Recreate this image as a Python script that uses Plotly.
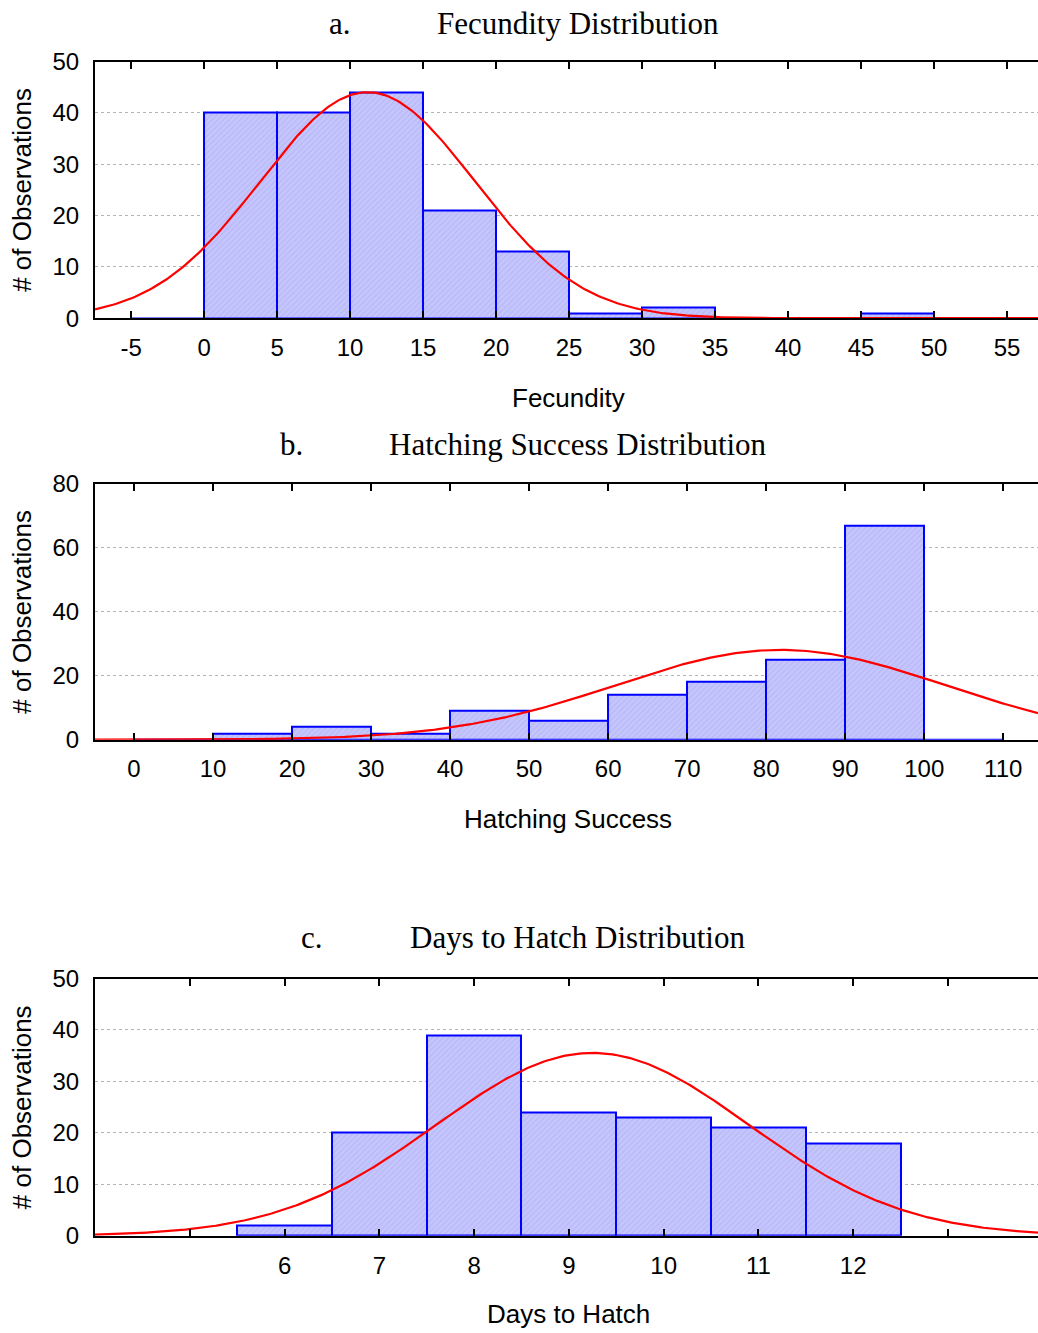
import numpy as np
import plotly.graph_objects as go

# ---- data -------------------------------------------------------------
# a. Fecundity (bins of width 5)
fec_bins = [-5, 0, 5, 10, 15, 20, 25, 30, 35, 40, 45, 50]
fec_counts = [0, 40, 40, 44, 21, 13, 1, 2, 0, 0, 1, 0]
fec_mean, fec_sd = 11.2, 7.34

# b. Hatching success (bins of width 10)
hat_bins = [0, 10, 20, 30, 40, 50, 60, 70, 80, 90, 100]
hat_counts = [0, 2, 4, 2, 9, 6, 14, 18, 25, 67, 0]
hat_mean, hat_sd = 81.8, 20.9

# c. Days to hatch (bins of width 1, centred on whole days)
day_bins = [5.5, 6.5, 7.5, 8.5, 9.5, 10.5, 11.5]
day_counts = [2, 20, 39, 24, 23, 21, 18]
day_mean, day_sd = 9.25, 1.65

fec_ticks = list(range(-5, 60, 5))
hat_ticks = list(range(0, 120, 10))
day_ticks = list(range(5, 14))
day_ticklabels = ["", "6", "7", "8", "9", "10", "11", "12", ""]

# ---- page geometry ----------------------------------------------------
W, H = 1038, 1333
LEFT = 95


def ydom(top, bottom):
    return [1 - bottom / H, 1 - top / H]


panels = [
    dict(bins=fec_bins, counts=fec_counts, width=5, mean=fec_mean, sd=fec_sd,
         xrange=[-7.47, 57.12], yrange=[0, 50], ydtick=10,
         xticks=fec_ticks, xticktext=[str(t) for t in fec_ticks],
         top=48.5, bottom=310.5, letter="a.", letter_x=340, title="Fecundity Distribution",
         title_y=9.5, xlabel="Fecundity", xlabel_y=392),
    dict(bins=hat_bins, counts=hat_counts, width=10, mean=hat_mean, sd=hat_sd,
         xrange=[-4.94, 114.4], yrange=[0, 80], ydtick=20,
         xticks=hat_ticks, xticktext=[str(t) for t in hat_ticks],
         top=479.4, bottom=740.7, letter="b.", letter_x=291, title="Hatching Success Distribution",
         title_y=439.7, xlabel="Hatching Success", xlabel_y=822),
    dict(bins=day_bins, counts=day_counts, width=1, mean=day_mean, sd=day_sd,
         xrange=[4.0, 13.95], yrange=[0, 50], ydtick=10,
         xticks=day_ticks, xticktext=day_ticklabels,
         top=984.5, bottom=1247, letter="c.", letter_x=312, title="Days to Hatch Distribution",
         title_y=943, xlabel="Days to Hatch", xlabel_y=1327),
]

fig = go.Figure()
annotations = []
sans = "Liberation Sans, Arial, sans-serif"
serif = "Liberation Serif, Times New Roman, serif"
TICK_SIZE = 24
LABEL_SIZE = 26
SERIF_SIZE = 31

for i, p in enumerate(panels, start=1):
    xa = "x" if i == 1 else f"x{i}"
    ya = "y" if i == 1 else f"y{i}"
    centers = [b + p["width"] / 2 for b in p["bins"]]
    fig.add_trace(go.Bar(
        x=centers, y=p["counts"], width=p["width"], xaxis=xa, yaxis=ya,
        marker=dict(color="#c3c3ff",
                    line=dict(color="#0000ff", width=2),
                    pattern=dict(shape="/", fgcolor="#a9a9ee", bgcolor="#c6c6ff",
                                 size=4, solidity=0.35)),
        showlegend=False, hoverinfo="skip",
    ))
    # fitted normal curve scaled to counts
    n = sum(p["counts"])
    xs = np.linspace(p["xrange"][0], p["xrange"][1], 400)
    ys = n * p["width"] / (p["sd"] * np.sqrt(2 * np.pi)) * np.exp(-0.5 * ((xs - p["mean"]) / p["sd"]) ** 2)
    fig.add_trace(go.Scatter(
        x=xs, y=ys, mode="lines", xaxis=xa, yaxis=ya,
        line=dict(color="#ff0000", width=2.2), showlegend=False, hoverinfo="skip",
    ))

    xkey = "xaxis" if i == 1 else f"xaxis{i}"
    ykey = "yaxis" if i == 1 else f"yaxis{i}"
    fig.layout[xkey] = dict(
        domain=[LEFT / W, 1], range=p["xrange"], anchor=ya,
        tickmode="array", tickvals=p["xticks"], ticktext=p["xticktext"],
        ticks="inside", ticklen=7, tickwidth=2, tickcolor="black",
        showline=True, linecolor="black", linewidth=2, mirror="ticks",
        showgrid=False, zeroline=False, ticklabelstandoff=7,
        tickfont=dict(family=sans, size=TICK_SIZE, color="black"),
    )
    fig.layout[ykey] = dict(
        domain=ydom(p["top"], p["bottom"]), range=p["yrange"], anchor=xa,
        dtick=p["ydtick"], tick0=0, ticks="",
        showline=True, linecolor="black", linewidth=2,
        showgrid=True, gridcolor="#b4b4b4", griddash="dot", gridwidth=1,
        zeroline=False, ticklabelstandoff=9,
        tickfont=dict(family=sans, size=TICK_SIZE, color="black"),
    )

    annotations += [
        dict(text=p["letter"], x=p["letter_x"] / W, y=1 - p["title_y"] / H,
             xref="paper", yref="paper", showarrow=False,
             font=dict(family=serif, size=SERIF_SIZE, color="black"), xanchor="center", yanchor="middle"),
        dict(text=p["title"], x=577.5 / W, y=1 - p["title_y"] / H,
             xref="paper", yref="paper", showarrow=False,
             font=dict(family=serif, size=SERIF_SIZE, color="black"), xanchor="center", yanchor="middle"),
        dict(text=p["xlabel"], x=568 / W, y=1 - p["xlabel_y"] / H,
             xref="paper", yref="paper", showarrow=False,
             font=dict(family=sans, size=LABEL_SIZE, color="black"), xanchor="center", yanchor="middle"),
        dict(text="# of Observations", x=22 / W, y=1 - (p["top"] + p["bottom"]) / 2 / H,
             xref="paper", yref="paper", showarrow=False, textangle=-90,
             font=dict(family=sans, size=LABEL_SIZE, color="black"), xanchor="center", yanchor="middle"),
    ]

fig.update_layout(
    width=W, height=H, margin=dict(l=0, r=0, t=0, b=0),
    paper_bgcolor="white", plot_bgcolor="white",
    bargap=0, annotations=annotations, showlegend=False,
)

fig.write_html("out.html")
